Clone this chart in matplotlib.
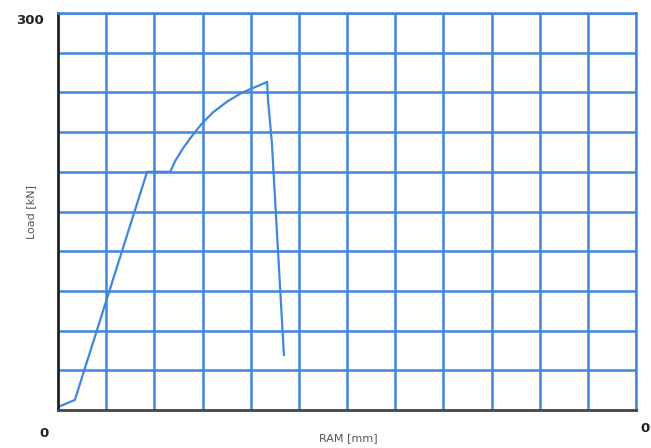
import numpy as np
import matplotlib.pyplot as plt

# Load-displacement curve (x in grid units, y in kN)
ram = [0.0, 0.35, 1.85, 2.33, 2.43, 2.60, 2.80, 2.99, 3.22, 3.51, 3.78, 3.99,
       4.19, 4.34, 4.36, 4.44, 4.69]
load = [2.3, 7.6, 180, 180, 188, 198, 208, 216.5, 225, 233, 239,
        242.5, 245.5, 247.9, 234.3, 201.8, 41.6]

x_grid = np.arange(0, 13, 1)
y_grid = np.arange(0, 301, 30)

blue = "#3f86dd"

fig = plt.figure(figsize=(6.51, 4.48), dpi=100)
ax = fig.add_axes([0.0891, 0.0848, 0.8879, 0.8862])
ax.set_xlim(0, 12)
ax.set_ylim(0, 300)

for gx in x_grid[1:]:
    ax.axvline(gx, color=blue, lw=1.8, zorder=1)
for gy in y_grid[1:]:
    ax.axhline(gy, color=blue, lw=1.8, zorder=1)

ax.plot(ram, load, color=blue, lw=1.6, zorder=2)

ax.set_xticks([])
ax.set_yticks([])
ax.spines["left"].set_color("#222222")
ax.spines["left"].set_linewidth(2.0)
ax.spines["bottom"].set_color("#444444")
ax.spines["bottom"].set_linewidth(2.0)
ax.spines["top"].set_color(blue)
ax.spines["top"].set_linewidth(1.8)
ax.spines["right"].set_color(blue)
ax.spines["right"].set_linewidth(1.8)

fig.text(30 / 651, 1 - 20 / 448, "300", ha="center", va="center",
         fontsize=9.5, fontweight="bold", color="#222222")
fig.text(44 / 651, 1 - 433 / 448, "0", ha="center", va="center",
         fontsize=9.5, fontweight="bold", color="#222222")
fig.text(645 / 651, 1 - 428 / 448, "0", ha="center", va="center",
         fontsize=9.5, fontweight="bold", color="#222222")
fig.text(348 / 651, 1 - 438 / 448, "RAM [mm]", ha="center", va="center",
         fontsize=8, color="#555555")
fig.text(31 / 651, 1 - 212 / 448, "Load [kN]", ha="center", va="center",
         fontsize=8, color="#555555", rotation=90)

fig.savefig("out.png", dpi=100)
